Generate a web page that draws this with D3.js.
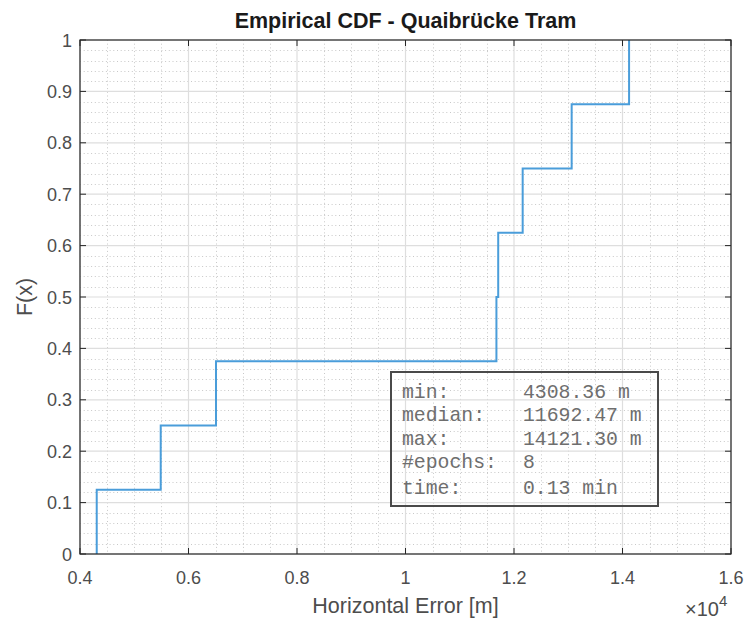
<!DOCTYPE html>
<html>
<head>
<meta charset="utf-8">
<script src="https://cdn.jsdelivr.net/npm/d3@7"></script>
<style>
  body { margin: 0; background: #fff; }
  svg { display: block; }
</style>
</head>
<body>
<svg id="chart" width="748" height="623"></svg>
<script>
// ---- data ----
const errors = [4308.36, 5488.0, 6507.0, 11676.0, 11708.94, 12160.0, 13063.0, 14121.30];
const xTicks = [4000, 6000, 8000, 10000, 12000, 14000, 16000];
const yTicks = [0, 0.1, 0.2, 0.3, 0.4, 0.5, 0.6, 0.7, 0.8, 0.9, 1];
const statLabels = ["min:", "median:", "max:", "#epochs:", "time:"];
const statValues = ["4308.36 m", "11692.47 m", "14121.30 m", "8", "0.13 min"];
const titleText = "Empirical CDF - Quaibrücke Tram";
const xLabelText = "Horizontal Error [m]";
const yLabelText = "F(x)";

// ---- layout ----
const svg = d3.select("#chart");
const L = 80, R = 731, T = 40, B = 554;
const x = d3.scaleLinear().domain([4000, 16000]).range([L, R]);
const y = d3.scaleLinear().domain([0, 1]).range([B, T]);
const axisColor = "#262626";
const font = "'Liberation Sans', Arial, Helvetica, sans-serif";

// minor grid (dotted)
const xMinor = d3.range(4000, 16001, 500).filter(v => v % 2000 !== 0);
const yMinor = d3.range(0, 51, 1).map(v => v / 50).filter((v, i) => i % 5 !== 0);
const g = svg.append("g");
g.selectAll(".xm").data(xMinor).join("line")
  .attr("x1", d => Math.round(x(d)) + 0.5).attr("x2", d => Math.round(x(d)) + 0.5)
  .attr("y1", T).attr("y2", B)
  .attr("stroke", "#c8c8c8").attr("stroke-width", 1).attr("stroke-dasharray", "1,2.7");
g.selectAll(".ym").data(yMinor).join("line")
  .attr("y1", d => Math.round(y(d)) + 0.5).attr("y2", d => Math.round(y(d)) + 0.5)
  .attr("x1", L).attr("x2", R)
  .attr("stroke", "#c8c8c8").attr("stroke-width", 1).attr("stroke-dasharray", "1,2.7");

// major grid
g.selectAll(".xg").data(xTicks).join("line")
  .attr("x1", d => x(d)).attr("x2", d => x(d)).attr("y1", T).attr("y2", B)
  .attr("stroke", "#dedede").attr("stroke-width", 1.2);
g.selectAll(".yg").data(yTicks).join("line")
  .attr("y1", d => y(d)).attr("y2", d => y(d)).attr("x1", L).attr("x2", R)
  .attr("stroke", "#dedede").attr("stroke-width", 1.2);

// stats box (transparent)
const bx = 391, by = 372, bw = 267, bh = 134;
svg.append("rect").attr("x", bx).attr("y", by).attr("width", bw).attr("height", bh)
  .attr("fill", "none").attr("stroke", "#4a4a4a").attr("stroke-width", 2);
const rowY = [392, 415, 439, 462, 488];
const mono = "'Liberation Mono', 'Courier New', monospace";
svg.selectAll(".sl").data(statLabels).join("text")
  .attr("x", 402).attr("y", (d, i) => rowY[i] + 6)
  .attr("font-family", mono)
  .attr("font-size", 19.8).attr("fill", "#6e6e6e").text(d => d);
svg.selectAll(".sv").data(statValues).join("text")
  .attr("x", 523).attr("y", (d, i) => rowY[i] + 6)
  .attr("font-family", mono)
  .attr("font-size", 19.8).attr("fill", "#6e6e6e").text(d => d);

// ECDF stairs
const n = errors.length;
const pts = [[errors[0], 0]];
errors.forEach((v, i) => {
  pts.push([v, (i + 1) / n]);
  if (i < n - 1) pts.push([errors[i + 1], (i + 1) / n]);
});
const line = d3.line().x(d => x(d[0])).y(d => y(d[1]));
svg.append("path").datum(pts).attr("d", line)
  .attr("fill", "none").attr("stroke", "#4a9dda").attr("stroke-width", 2);

// axes box
svg.append("rect").attr("x", L).attr("y", T).attr("width", R - L).attr("height", B - T)
  .attr("fill", "none").attr("stroke", axisColor).attr("stroke-width", 1.2);

// ticks (inward, all four sides)
const tl = 6;
xTicks.forEach(v => {
  svg.append("line").attr("x1", x(v)).attr("x2", x(v)).attr("y1", B).attr("y2", B - tl).attr("stroke", axisColor);
  svg.append("line").attr("x1", x(v)).attr("x2", x(v)).attr("y1", T).attr("y2", T + tl).attr("stroke", axisColor);
});
yTicks.forEach(v => {
  svg.append("line").attr("y1", y(v)).attr("y2", y(v)).attr("x1", L).attr("x2", L + tl).attr("stroke", axisColor);
  svg.append("line").attr("y1", y(v)).attr("y2", y(v)).attr("x1", R).attr("x2", R - tl).attr("stroke", axisColor);
});

// tick labels
svg.selectAll(".xt").data(xTicks).join("text")
  .attr("x", d => x(d)).attr("y", 584).attr("text-anchor", "middle")
  .attr("font-family", font).attr("font-size", 18).attr("fill", "#4d4d4d")
  .text(d => d3.format("")(d / 10000));
svg.selectAll(".yt").data(yTicks).join("text")
  .attr("x", 72).attr("y", d => y(d) + 6.5).attr("text-anchor", "end")
  .attr("font-family", font).attr("font-size", 18).attr("fill", "#4d4d4d")
  .text(d => d3.format("")(d));

// exponent
const ex = svg.append("text").attr("x", 685).attr("y", 616)
  .attr("font-family", font).attr("font-size", 20).attr("fill", "#4d4d4d");
ex.append("tspan").text("×10");
ex.append("tspan").attr("dy", -10).attr("font-size", 15).text("4");

// title & labels
svg.append("text").attr("x", (L + R) / 2).attr("y", 28).attr("text-anchor", "middle")
  .attr("font-family", font).attr("font-weight", "bold").attr("font-size", 21.5)
  .attr("fill", "#1a1a1a").text(titleText);
svg.append("text").attr("x", (L + R) / 2).attr("y", 613).attr("text-anchor", "middle")
  .attr("font-family", font).attr("font-size", 21.5).attr("fill", "#4d4d4d").text(xLabelText);
svg.append("text").attr("transform", `translate(32, ${(T + B) / 2}) rotate(-90)`)
  .attr("text-anchor", "middle")
  .attr("font-family", font).attr("font-size", 21.5).attr("fill", "#4d4d4d").text(yLabelText);
</script>
</body>
</html>
